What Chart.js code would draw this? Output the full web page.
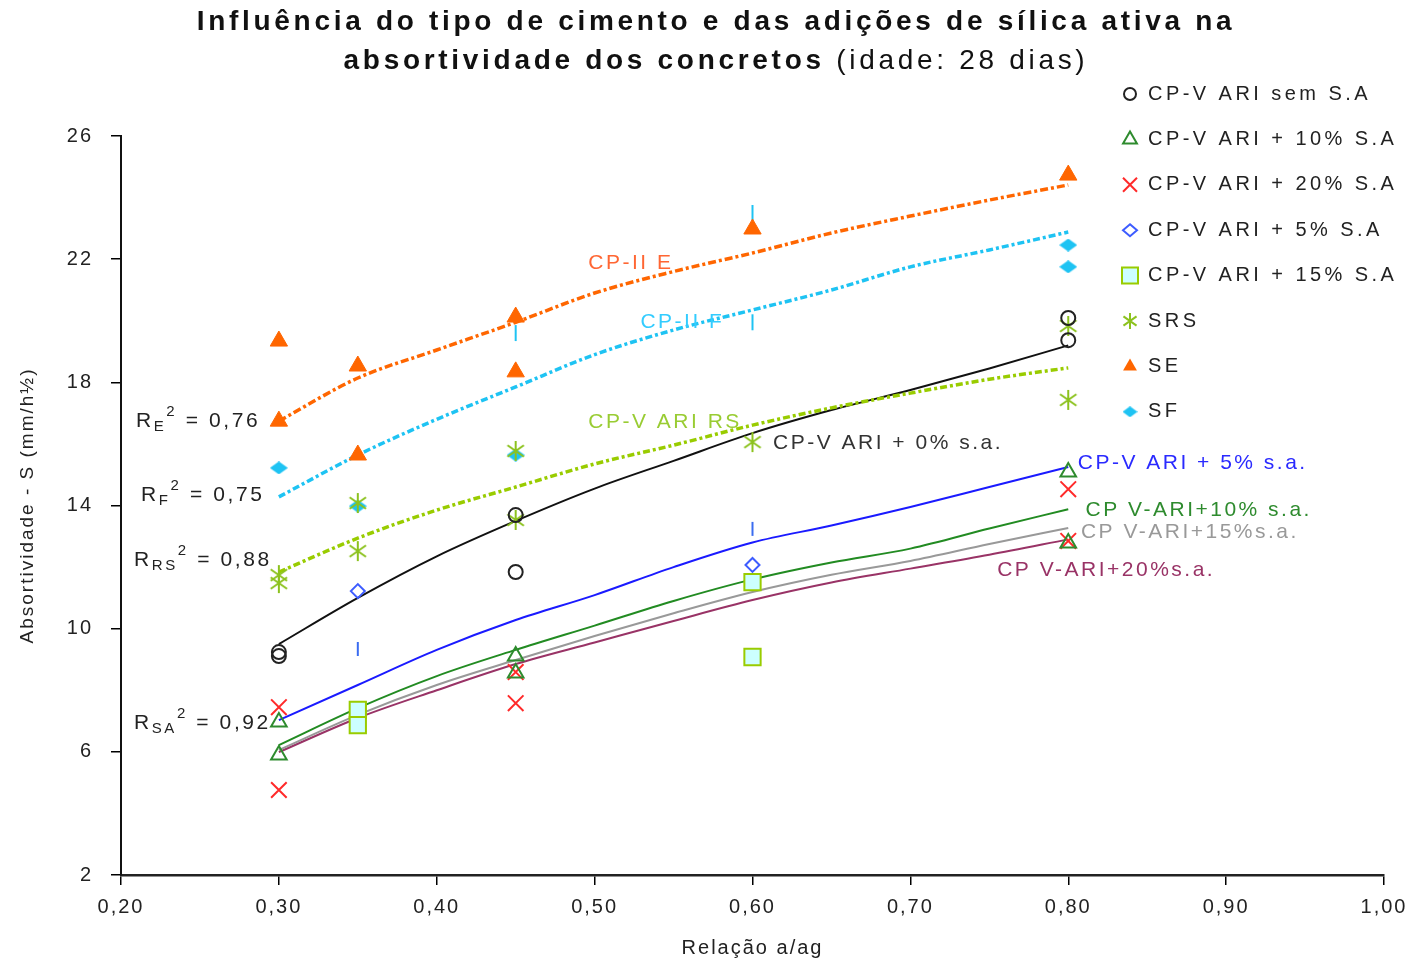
<!DOCTYPE html>
<html>
<head>
<meta charset="utf-8">
<script src="https://cdn.jsdelivr.net/npm/chart.js@4.4.1/dist/chart.umd.min.js"></script>
<style>
  html, body { margin: 0; padding: 0; background: #fff; }
</style>
</head>
<body>
<canvas id="chart" width="1414" height="963"></canvas>
<script>
// ---- data (x = relação a/ag, y = absortividade) ----
const semSaX = [0.30, 0.30, 0.45, 0.45, 0.80, 0.80];
const semSaY = [9.24, 9.11, 13.69, 11.84, 20.09, 19.37];
const sa10X = [0.30, 0.30, 0.45, 0.45, 0.80, 0.80];
const sa10Y = [6.97, 5.90, 9.11, 8.56, 15.09, 12.78];
const sa20X = [0.30, 0.30, 0.45, 0.45, 0.80, 0.80];
const sa20Y = [7.45, 4.76, 8.59, 7.58, 14.53, 12.85];
const sa5X = [0.35, 0.60];
const sa5Y = [11.22, 12.07];
const sa15X = [0.35, 0.35, 0.60, 0.60];
const sa15Y = [7.36, 6.87, 11.51, 9.08];
const srsX = [0.30, 0.30, 0.35, 0.35, 0.45, 0.45, 0.60, 0.80, 0.80];
const srsY = [11.74, 11.48, 14.08, 12.52, 15.77, 13.53, 16.06, 19.83, 17.43];
const seX = [0.30, 0.30, 0.35, 0.35, 0.45, 0.45, 0.60, 0.80];
const seY = [19.34, 16.74, 18.53, 15.64, 20.12, 18.34, 22.98, 24.73];
const sfX = [0.30, 0.35, 0.45, 0.80, 0.80];
const sfY = [15.22, 13.98, 15.64, 22.46, 21.75];

// small vertical marks left in the original
const markBlueX = [0.35, 0.60];
const markBlueY = [9.34, 13.24];
const markCyanX = [0.45, 0.60, 0.60];
const markCyanY = [19.6, 23.5, 19.95];

// trend curves
const trendX = [0.30, 0.35, 0.40, 0.45, 0.50, 0.55, 0.60, 0.65, 0.70, 0.75, 0.80];
const trendE = [16.74, 18.14, 19.05, 19.95, 20.9, 21.6, 22.2, 22.85, 23.4, 23.92, 24.41];
const trendF = [14.28, 15.64, 16.8, 17.85, 18.9, 19.7, 20.35, 21.0, 21.75, 22.3, 22.88];
const trendRS = [11.84, 12.94, 13.85, 14.6, 15.35, 15.96, 16.61, 17.17, 17.65, 18.1, 18.47];
const trend0 = [9.5, 11.0, 12.35, 13.5, 14.55, 15.45, 16.35, 17.1, 17.75, 18.45, 19.2];
const trend5 = [7.03, 8.17, 9.31, 10.28, 11.09, 12.0, 12.8, 13.35, 13.95, 14.6, 15.25];
const trend10 = [6.22, 7.42, 8.46, 9.31, 10.1, 10.9, 11.6, 12.15, 12.6, 13.25, 13.88];
const trend15 = [6.06, 7.2, 8.17, 8.98, 9.76, 10.5, 11.19, 11.75, 12.2, 12.75, 13.27];
const trend20 = [5.99, 7.1, 8.0, 8.85, 9.55, 10.25, 10.93, 11.5, 11.95, 12.4, 12.9];

const legendLabels = ['CP-V ARI sem S.A', 'CP-V ARI + 10% S.A', 'CP-V ARI + 20% S.A', 'CP-V ARI + 5% S.A',
  'CP-V ARI + 15% S.A', 'SRS', 'SE', 'SF'];

const titleLine1 = 'Influência do tipo de cimento e das adições de sílica ativa na';
const titleLine2Bold = 'absortividade dos concretos ';
const titleLine2Normal = '(idade: 28 dias)';

const FONT = '"Liberation Sans", Arial, sans-serif';

// curve labels, anchored in data coordinates
const curveNotes = [
  { text: 'CP-II E', x: 0.496, y: 21.88, color: '#ff6633' },
  { text: 'CP-II F', x: 0.529, y: 19.96, color: '#33ccff' },
  { text: 'CP-V ARI RS', x: 0.496, y: 16.71, color: '#99cc33' },
  { text: 'CP-V ARI + 0% s.a.', x: 0.613, y: 16.03, color: '#333333' },
  { text: 'CP-V ARI + 5% s.a.', x: 0.806, y: 15.38, color: '#2a2aff' },
  { text: 'CP V-ARI+10% s.a.', x: 0.811, y: 13.85, color: '#2e8b2e' },
  { text: 'CP V-ARI+15%s.a.', x: 0.808, y: 13.14, color: '#999999' },
  { text: 'CP V-ARI+20%s.a.', x: 0.755, y: 11.90, color: '#993366' }
];
const rNotes = [
  { sub: 'E', val: '0,76', x: 0.2095, y: 16.74 },
  { sub: 'F', val: '0,75', x: 0.2127, y: 14.34 },
  { sub: 'RS', val: '0,88', x: 0.2082, y: 12.23 },
  { sub: 'SA', val: '0,92', x: 0.2082, y: 6.94 }
];

// custom marker images
function makeMark(w, h, draw) {
  const c = document.createElement('canvas');
  c.width = w; c.height = h;
  draw(c.getContext('2d'), w, h);
  return c;
}
function asterisk(size, color) {
  return makeMark(size, size, (g, w, h) => {
    g.strokeStyle = color;
    g.lineWidth = 2;
    const r = size / 2 - 1;
    g.beginPath();
    [90, 35, 145].forEach(a => {
      const t = a * Math.PI / 180;
      g.moveTo(w / 2 + Math.cos(t) * r, h / 2 - Math.sin(t) * r);
      g.lineTo(w / 2 - Math.cos(t) * r, h / 2 + Math.sin(t) * r);
    });
    g.stroke();
  });
}
function flatDiamond(w, h, color) {
  return makeMark(w, h, (g) => {
    g.fillStyle = color;
    g.beginPath();
    g.moveTo(w / 2, 0); g.lineTo(w, h / 2); g.lineTo(w / 2, h); g.lineTo(0, h / 2);
    g.closePath();
    g.fill();
  });
}
const srsMark = asterisk(22, '#8cc21e');
const srsMarkSmall = asterisk(18, '#8cc21e');
const sfMark = flatDiamond(18, 13, '#1ec3f3');
const sfMarkSmall = flatDiamond(15, 11, '#1ec3f3');

const pts = (xs, ys) => xs.map((x, i) => ({ x, y: ys[i] }));

const scatterSet = (label, xs, ys, style) => Object.assign({
  label, data: pts(xs, ys), showLine: false, borderWidth: 2
}, style);

const trendSet = (ys, color, width, dash) => ({
  label: '', data: pts(trendX, ys), showLine: true, pointRadius: 0,
  borderColor: color, borderWidth: width, borderDash: dash || [],
  cubicInterpolationMode: 'monotone', fill: false
});

const datasets = [
  scatterSet(legendLabels[0], semSaX, semSaY, { pointStyle: 'circle', pointRadius: 7, pointBorderColor: '#222', pointBackgroundColor: 'rgba(0,0,0,0)', pointBorderWidth: 2 }),
  scatterSet(legendLabels[1], sa10X, sa10Y, { pointStyle: 'triangle', pointRadius: 9, pointBorderColor: '#2e8b2e', pointBackgroundColor: 'rgba(0,0,0,0)', pointBorderWidth: 2 }),
  scatterSet(legendLabels[2], sa20X, sa20Y, { pointStyle: 'crossRot', pointRadius: 11, pointBorderColor: '#ff2a2a', pointBorderWidth: 2 }),
  scatterSet(legendLabels[3], sa5X, sa5Y, { pointStyle: 'rectRot', pointRadius: 7, pointBorderColor: '#3d5cff', pointBackgroundColor: 'rgba(0,0,0,0)', pointBorderWidth: 2 }),
  scatterSet(legendLabels[4], sa15X, sa15Y, { pointStyle: 'rect', pointRadius: 11.5, pointBorderColor: '#99cc00', pointBackgroundColor: '#ccffff', pointBorderWidth: 2 }),
  scatterSet(legendLabels[5], srsX, srsY, { pointStyle: srsMark }),
  scatterSet(legendLabels[6], seX, seY, { pointStyle: 'triangle', pointRadius: 10, pointBorderColor: '#ff6600', pointBackgroundColor: '#ff6600', pointBorderWidth: 1 }),
  scatterSet(legendLabels[7], sfX, sfY, { pointStyle: sfMark }),
  scatterSet('', markBlueX, markBlueY, { pointStyle: 'line', rotation: 90, pointRadius: 7, pointBorderColor: '#3a6cf0', pointBorderWidth: 2 }),
  scatterSet('', markCyanX, markCyanY, { pointStyle: 'line', rotation: 90, pointRadius: 8, pointBorderColor: '#1ec3f3', pointBorderWidth: 2 }),
  trendSet(trendE, '#ff6600', 3.5, [8, 3, 3, 3]),
  trendSet(trendF, '#1ec3f3', 3.5, [7, 3, 3, 3]),
  trendSet(trendRS, '#99cc00', 3.5, [7, 3, 3, 3]),
  trendSet(trend0, '#111111', 2),
  trendSet(trend5, '#1a1aff', 2),
  trendSet(trend10, '#228b22', 2),
  trendSet(trend15, '#999999', 2),
  trendSet(trend20, '#993366', 2)
];

// letter spacing for axis text, like the original
const spacing = {
  id: 'spacing',
  beforeDraw(chart) { chart.ctx.letterSpacing = '2px'; }
};

const titlePlugin = {
  id: 'twoLineTitle',
  afterDraw(chart) {
    const ctx = chart.ctx;
    const cx = 716;
    ctx.save();
    ctx.fillStyle = '#111';
    ctx.textBaseline = 'middle';
    ctx.letterSpacing = '3.7px';
    ctx.textAlign = 'center';
    ctx.font = 'bold 28px ' + FONT;
    ctx.fillText(titleLine1, cx, 22);
    const wb = ctx.measureText(titleLine2Bold).width;
    ctx.font = '28px ' + FONT;
    const wn = ctx.measureText(titleLine2Normal).width;
    const x0 = cx - (wb + wn) / 2;
    ctx.textAlign = 'left';
    ctx.font = 'bold 28px ' + FONT;
    ctx.fillText(titleLine2Bold, x0, 61);
    ctx.font = '28px ' + FONT;
    ctx.fillText(titleLine2Normal, x0 + wb, 61);
    ctx.restore();
  }
};

function drawLegendMark(ctx, i, x, y) {
  ctx.save();
  ctx.lineWidth = 2;
  ctx.beginPath();
  if (i === 0) {
    ctx.strokeStyle = '#222';
    ctx.arc(x, y, 6, 0, Math.PI * 2);
    ctx.stroke();
  } else if (i === 1 || i === 6) {
    const r = 8;
    ctx.moveTo(x, y - r);
    ctx.lineTo(x + r * 0.866, y + r / 2);
    ctx.lineTo(x - r * 0.866, y + r / 2);
    ctx.closePath();
    if (i === 1) { ctx.strokeStyle = '#2e8b2e'; ctx.stroke(); }
    else { ctx.fillStyle = '#ff6600'; ctx.fill(); }
  } else if (i === 2) {
    ctx.strokeStyle = '#ff2a2a';
    ctx.moveTo(x - 7, y - 7); ctx.lineTo(x + 7, y + 7);
    ctx.moveTo(x + 7, y - 7); ctx.lineTo(x - 7, y + 7);
    ctx.stroke();
  } else if (i === 3) {
    ctx.strokeStyle = '#3d5cff';
    ctx.moveTo(x, y - 6); ctx.lineTo(x + 7, y); ctx.lineTo(x, y + 6); ctx.lineTo(x - 7, y);
    ctx.closePath();
    ctx.stroke();
  } else if (i === 4) {
    ctx.fillStyle = '#ccffff';
    ctx.strokeStyle = '#99cc00';
    ctx.rect(x - 8, y - 8, 16, 16);
    ctx.fill();
    ctx.stroke();
  } else if (i === 5) {
    ctx.drawImage(srsMarkSmall, x - srsMarkSmall.width / 2, y - srsMarkSmall.height / 2);
  } else if (i === 7) {
    ctx.drawImage(sfMarkSmall, x - sfMarkSmall.width / 2, y - sfMarkSmall.height / 2);
  }
  ctx.restore();
}

const legendPlugin = {
  id: 'floatingLegend',
  afterDraw(chart) {
    const ctx = chart.ctx;
    ctx.save();
    ctx.font = '20px ' + FONT;
    ctx.letterSpacing = '3.45px';
    ctx.fillStyle = '#222';
    ctx.textBaseline = 'middle';
    ctx.textAlign = 'left';
    legendLabels.forEach((lab, i) => {
      const y = 94 + i * 45.4;
      drawLegendMark(ctx, i, 1130, y);
      ctx.fillText(lab, 1148, y);
    });
    ctx.restore();
  }
};

function drawR(ctx, note, x, y) {
  ctx.font = '21px ' + FONT;
  ctx.fillText('R', x, y);
  let cx = x + ctx.measureText('R').width;
  ctx.font = '15px ' + FONT;
  ctx.fillText(note.sub, cx, y + 6);
  const ws = ctx.measureText(note.sub).width;
  ctx.fillText('2', cx + ws, y - 9);
  cx += ws + ctx.measureText('2').width;
  ctx.font = '21px ' + FONT;
  ctx.fillText(' = ' + note.val, cx, y);
}

const notesPlugin = {
  id: 'curveNotes',
  afterDatasetsDraw(chart) {
    const ctx = chart.ctx;
    const xs = chart.scales.x, ys = chart.scales.y;
    ctx.save();
    ctx.textBaseline = 'middle';
    ctx.textAlign = 'left';
    ctx.letterSpacing = '2.5px';
    ctx.font = '21px ' + FONT;
    curveNotes.forEach(n => {
      ctx.fillStyle = n.color;
      ctx.fillText(n.text, xs.getPixelForValue(n.x), ys.getPixelForValue(n.y));
    });
    ctx.fillStyle = '#222';
    ctx.letterSpacing = '2.6px';
    rNotes.forEach(n => drawR(ctx, n, xs.getPixelForValue(n.x), ys.getPixelForValue(n.y)));
    ctx.restore();
  }
};

new Chart(document.getElementById('chart').getContext('2d'), {
  type: 'scatter',
  data: { datasets },
  options: {
    responsive: false,
    animation: false,
    layout: { padding: { top: 136, right: 30, left: 0, bottom: 0 } },
    plugins: {
      legend: { display: false },
      tooltip: { enabled: false }
    },
    scales: {
      x: {
        type: 'linear',
        min: 0.2,
        max: 1.0,
        afterFit: (scale) => { scale.height = 88; },
        ticks: {
          stepSize: 0.1,
          padding: 10,
          color: '#222',
          font: { family: FONT, size: 20 },
          callback: (v) => v.toFixed(2).replace('.', ',')
        },
        grid: { drawOnChartArea: false, drawTicks: true, tickLength: 10, tickColor: '#000', lineWidth: 1.5 },
        border: { display: true, color: '#222', width: 2.5 },
        title: {
          display: true,
          text: 'Relação a/ag',
          color: '#222',
          font: { family: FONT, size: 20 },
          padding: { top: 0, bottom: 3 }
        }
      },
      y: {
        min: 2,
        max: 26,
        afterFit: (scale) => { scale.width = 121; },
        ticks: {
          stepSize: 4,
          padding: 18,
          color: '#222',
          font: { family: FONT, size: 20 }
        },
        grid: { drawOnChartArea: false, drawTicks: true, tickLength: 10, tickColor: '#000', lineWidth: 1.5 },
        border: { display: true, color: '#111', width: 2 },
        title: {
          display: true,
          text: 'Absortividade - S (mm/h½)',
          color: '#222',
          font: { family: FONT, size: 19 },
          padding: { top: 16, bottom: 0 }
        }
      }
    }
  },
  plugins: [spacing, notesPlugin, titlePlugin, legendPlugin]
});
</script>
</body>
</html>
